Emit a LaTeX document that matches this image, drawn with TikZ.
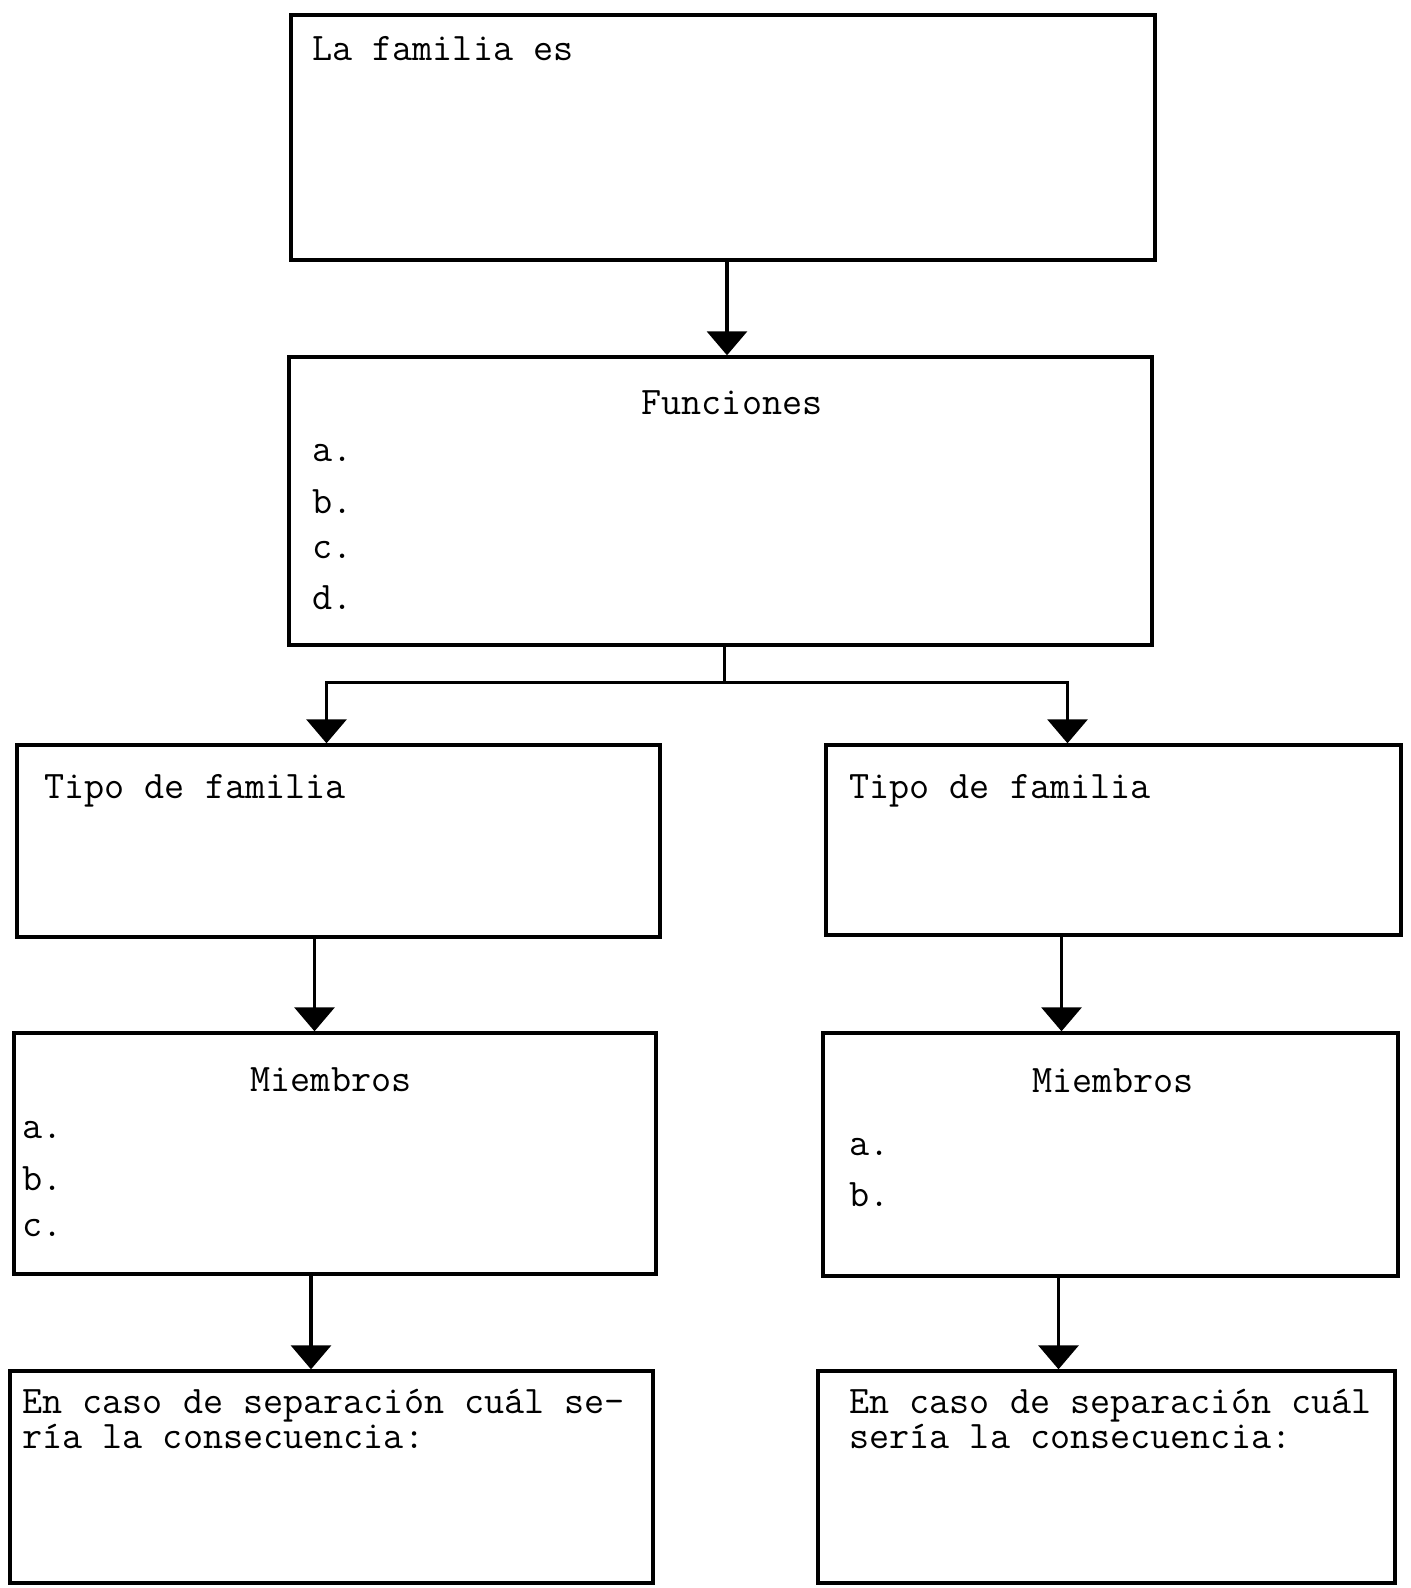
\documentclass[tikz,border=0pt]{standalone}
\usepackage{fontspec}
\usetikzlibrary{arrows.meta, positioning, fit}

\begin{document}
\begin{tikzpicture}[
            x = 0.5pt, y = -0.5pt, % one unit per pixel, y going down
            > = {Triangle[width=20pt,length=12pt]}, % arrow head style
            box/.style = {draw = black, line width = 1.7pt, inner sep = 0pt},
            txt/.style = {font = \ttfamily\fontsize{19.5}{16}\selectfont, inner sep = 0pt, anchor = west, align = left},
            flecha/.style = {->, line width = 1.7pt}
        ]

        \useasboundingbox (0,0) rectangle (1411,1588);

        % boxes
        \node[box, fit={(291,15) (1155,260)}] (fam) {};
        \node[box, fit={(289,357) (1152,645)}] (fun) {};
        \node[box, fit={(17,745) (660,937)}] (tipoL) {};
        \node[box, fit={(826,745) (1401,935)}] (tipoR) {};
        \node[box, fit={(14,1033) (656,1274)}] (miemL) {};
        \node[box, fit={(823,1033) (1398,1276)}] (miemR) {};
        \node[box, fit={(10,1371) (653,1583)}] (sepL) {};
        \node[box, fit={(818,1371) (1395,1583)}] (sepR) {};

        % texts
        \node[txt] (famT) at (312,49) {La familia es};
        \node[txt, anchor = center] (funT) at (732,403) {Funciones};
        \foreach \l [count=\i] in {a,b,c,d}
            \node[txt] (fun-\l) at (312,{453+48.3*(\i-1)}) {\l.};

        \node[txt] (tipoLT) at (44,791) {Tipo de familia};
        \node[txt] (tipoRT) at (849,791) {Tipo de familia};

        \node[txt, anchor = center] (miemLT) at (331,1080) {Miembros};
        \foreach \l [count=\i] in {a,b,c}
            \node[txt] (miemL-\l) at (22,{1130+49*(\i-1)}) {\l.};
        \node[txt, anchor = center] (miemRT) at (1113,1081) {Miembros};
        \foreach \l [count=\i] in {a,b}
            \node[txt] (miemR-\l) at (849,{1147+48*(\i-1)}) {\l.};

        \node[txt] (sepLT) at (22,1419) {En caso de separación cuál se-\\ría la consecuencia:};
        \node[txt] (sepRT) at (849,1419) {En caso de separación cuál\\sería la consecuencia:};

        % arrows
        \draw[flecha] ([xshift=2pt]fam.south) -- ([xshift=2pt]fam.south |- fun.north);
        \draw[line width = 1.7pt] ([xshift=2pt]fun.south) -- ++(0,36) coordinate (split);
        \draw[flecha] (split) -| ([xshift=-6pt]tipoL.north);
        \draw[flecha] (split) -| ([xshift=-23pt]tipoR.north);

        \draw[flecha] ([xshift=-12pt]tipoL.south) -- ([xshift=-12pt]tipoL.south |- miemL.north);
        \draw[flecha] ([xshift=-26pt]tipoR.south) -- ([xshift=-26pt]tipoR.south |- miemR.north);
        \draw[flecha] ([xshift=-12pt]miemL.south) -- ([xshift=-12pt]miemL.south |- sepL.north);
        \draw[flecha] ([xshift=-26pt]miemR.south) -- ([xshift=-26pt]miemR.south |- sepR.north);
    \end{tikzpicture}
\end{document}
